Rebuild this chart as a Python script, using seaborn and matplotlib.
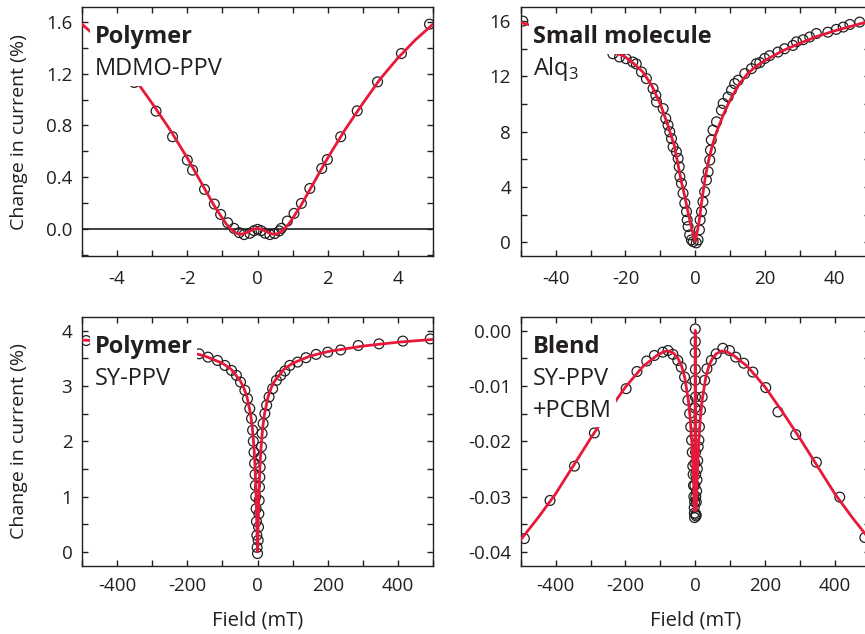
import matplotlib
matplotlib.use("Agg")
import matplotlib.pyplot as plt
import seaborn as sns
from matplotlib.ticker import MultipleLocator, FormatStrFormatter

# --- MDMO-PPV (polymer), field in mT, change in current in % ---
mdmo_field = [-3.51, -2.89, -2.42, -2.0, -1.85, -1.51, -1.23, -1.05, -0.85,
              -0.67, -0.52, -0.38, -0.22, -0.1, 0.0, 0.1, 0.22, 0.35, 0.49, 0.62, 0.68,
              0.85, 1.04, 1.25, 1.49, 1.83, 1.99, 2.37, 2.84, 3.42, 4.1, 4.9]
mdmo_mc = [1.131, 0.91, 0.713, 0.533, 0.456, 0.308, 0.195, 0.115, 0.051,
           0.008, -0.025, -0.04, -0.03, -0.01, 0.0, -0.01, -0.03, -0.04, -0.032, -0.012, 0.008,
           0.064, 0.123, 0.2, 0.315, 0.469, 0.538, 0.713, 0.913, 1.136, 1.354, 1.58]
mdmo_fit_field = [-5, -4.5, -4, -3.5, -3, -2.5, -2, -1.75, -1.5, -1.25, -1, -0.9, -0.8, -0.7,
                  -0.6, -0.5, -0.4, -0.3, -0.2, -0.1, 0, 0.1, 0.2, 0.3, 0.4, 0.5, 0.6, 0.7,
                  0.8, 0.9, 1, 1.25, 1.5, 1.75, 2, 2.5, 3, 3.5, 4, 4.5, 5]
mdmo_fit = [1.58, 1.46, 1.32, 1.16, 0.97, 0.77, 0.55, 0.43, 0.31, 0.19, 0.085, 0.045, 0.014,
            -0.012, -0.03, -0.038, -0.034, -0.024, -0.01, 0.003, 0.008, 0.003, -0.01, -0.024,
            -0.034, -0.038, -0.03, -0.012, 0.014, 0.045, 0.085, 0.19, 0.31, 0.43, 0.55, 0.77,
            0.97, 1.16, 1.32, 1.46, 1.58]

# --- Alq3 (small molecule) ---
alq_field = [-49.4, -23.6, -21.7, -19.8, -17.9, -16.9, -15.4, -14.0, -12.1, -11.3, -11.1,
             -9.2, -8.45, -7.8, -7.3, -6.8, -6.35, -5.4, -4.9, -4.6, -4.4, -3.95, -3.5, -3.0,
             -2.5, -2.3, -2.05, -1.6, -1.1, -0.6,
             0.3, 0.8, 1.2, 1.4, 1.8, 2.2, 2.7, 3.2, 3.7, 4.15, 4.35, 4.6, 5.1, 6.1, 7.5, 8.0,
             9.4, 10.4, 11.3, 12.3, 14.2, 16.1, 17.5, 18.5, 19.9, 21.3, 23.7, 25.6, 28.0, 29.0,
             30.9, 32.8, 34.7, 38.0, 40.4, 42.4, 44.3, 47.1]
alq_mc = [16.0, 13.64, 13.4, 13.28, 13.04, 12.9, 12.32, 11.84, 11.12, 10.63, 10.15,
          9.67, 8.95, 8.47, 7.99, 7.5, 6.9, 6.54, 6.06, 5.46, 4.74, 4.26, 3.54, 2.82,
          2.21, 1.61, 1.13, 0.53, 0.17, 0.04,
          -0.05, 0.17, 0.89, 1.61, 2.21, 2.93, 3.65, 4.5, 5.1, 5.94, 6.66, 7.39, 8.11, 8.71,
          9.55, 10.04, 10.51, 11.0, 11.48, 11.72, 12.2, 12.56, 12.92, 13.0, 13.3, 13.5, 13.76,
          14.0, 14.24, 14.5, 14.65, 14.85, 15.1, 15.2, 15.4, 15.57, 15.76, 15.93]
alq_fit_field = [-50, -45, -40, -35, -30, -25, -20, -17.5, -15, -12.5, -10, -8, -6, -4, -3,
                 -2, -1, 0, 1, 2, 3, 4, 5, 6, 8, 10, 12.5, 15, 17.5, 20, 25, 30, 35, 40, 45, 50]
alq_fit = [15.9, 15.55, 15.2, 14.85, 14.4, 13.95, 13.4, 12.9, 12.32, 11.35, 10.0, 8.58, 7.0,
           4.4, 3.3, 2.1, 0.95, 0.05, 1.3, 3.2, 4.9, 6.1, 7.1, 7.9, 9.2, 10.3, 11.4, 12.2,
           12.75, 13.15, 13.85, 14.4, 14.9, 15.3, 15.65, 16.0]

# --- SY-PPV (polymer) ---
sy_field = [-488, -166.5, -141, -114, -93, -74, -60, -48.5, -36, -28.5, -22, -17, -14, -12,
            -10, -8.5, -7, -6, -5, -4, -3, -2, -1,
            0, 1.9, 2.9, 3.8, 4.8, 5.7, 6.7, 7.6, 9.5, 11.4, 13, 16, 21, 26, 33, 43, 54, 66,
            78, 92, 114, 138, 167, 200, 237, 287, 346, 414, 492]
sy_mc = [3.82, 3.58, 3.52, 3.46, 3.37, 3.28, 3.19, 3.07, 2.92, 2.77, 2.59, 2.41, 2.2, 2.0,
         1.8, 1.6, 1.4, 1.2, 1.0, 0.78, 0.55, 0.3, 0.08,
         -0.03, 0.21, 0.45, 0.69, 0.93, 1.17, 1.35, 1.53, 1.71, 1.9, 2.14, 2.32, 2.5, 2.65,
         2.80, 2.95, 3.10, 3.19, 3.27, 3.37, 3.43, 3.51, 3.57, 3.61, 3.65, 3.73, 3.76, 3.81,
         3.85]
sy_fit_field = [-500, -400, -300, -200, -150, -100, -75, -50, -40, -30, -20, -15, -10, -7.5,
                -5, -3, -2, -1, 0, 1, 2, 3, 5, 7.5, 10, 15, 20, 30, 40, 50, 75, 100, 150,
                200, 300, 400, 500]
sy_fit = [3.83, 3.79, 3.72, 3.62, 3.54, 3.41, 3.3, 3.1, 2.98, 2.8, 2.5, 2.26, 1.88, 1.6,
          1.2, 0.78, 0.52, 0.25, 0.0, 0.25, 0.52, 0.78, 1.2, 1.6, 1.88, 2.26, 2.5, 2.8, 2.98,
          3.1, 3.3, 3.41, 3.54, 3.62, 3.72, 3.79, 3.84]

# --- SY-PPV + PCBM blend ---
blend_field = [-489.5, -416, -346, -289, -198, -167, -139, -117, -93, -78, -64, -50, -40,
               -30.6, -25.8, -21, -16, -13, -10.5, -8.5, -7, -6, -5, -4, -3, -2.5, -2, -1.6,
               -1.3, -1.0, -0.8, -0.6, -0.4, -0.2,
               0, 0.2, 0.4, 0.6, 0.8, 1.0, 1.3, 1.6, 2, 2.5, 3, 4, 5, 6, 7, 8.5, 10.5, 12,
               15, 20, 27, 33.5, 46, 60, 79, 98, 116, 139, 165, 202, 237, 288, 347, 414, 486]
blend_mc = [-0.0376, -0.0307, -0.0245, -0.0185, -0.0105, -0.0074, -0.0055, -0.0045, -0.0039,
            -0.0036, -0.0043, -0.0054, -0.0066, -0.0084, -0.0102, -0.0126, -0.015, -0.0174,
            -0.0198, -0.022, -0.0245, -0.026, -0.028, -0.030, -0.032, -0.033, -0.0338, -0.031,
            -0.028, -0.024, -0.019, -0.014, -0.009, -0.004,
            0.0003, -0.002, -0.007, -0.012, -0.017, -0.022, -0.026, -0.030, -0.0332, -0.0335,
            -0.031, -0.029, -0.027, -0.025, -0.0235, -0.021, -0.0198, -0.0174, -0.0144, -0.012,
            -0.009, -0.0069, -0.0054, -0.0042, -0.0032, -0.0036, -0.0048, -0.0059, -0.0075,
            -0.0103, -0.0147, -0.0188, -0.0238, -0.0301, -0.0374]
blend_fit_field = [-500, -450, -400, -350, -300, -250, -200, -150, -110, -90, -75, -60, -50,
                   -40, -30, -20, -15, -10, -5, -3, -2, -1.5, -1, -0.5, 0, 0.5, 1, 1.5, 2, 3,
                   5, 10, 15, 20, 30, 40, 50, 60, 75, 90, 110, 150, 200, 250, 300, 350, 400,
                   450, 500]
blend_fit = [-0.0378, -0.0338, -0.0295, -0.0245, -0.0195, -0.0147, -0.0102, -0.0065, -0.0045,
             -0.0038, -0.0037, -0.0042, -0.005, -0.0062, -0.0085, -0.0125, -0.0155, -0.02,
             -0.027, -0.031, -0.0325, -0.0325, -0.028, -0.015, 0.0, -0.015, -0.028, -0.0325,
             -0.0325, -0.031, -0.027, -0.02, -0.0155, -0.0125, -0.0085, -0.0062, -0.005,
             -0.0042, -0.0037, -0.0038, -0.0045, -0.0065, -0.0102, -0.0147, -0.0195, -0.0245,
             -0.0295, -0.0338, -0.0378]

RED = "#e6193a"
INK = "#231f20"

sns.set_theme(style="ticks")
plt.rcParams["font.family"] = ["Open Sans", "DejaVu Sans"]
plt.rcParams["axes.unicode_minus"] = False
plt.rcParams["axes.edgecolor"] = INK
plt.rcParams["axes.linewidth"] = 1.0
plt.rcParams["text.color"] = INK
plt.rcParams["axes.labelcolor"] = INK
plt.rcParams["xtick.color"] = INK
plt.rcParams["ytick.color"] = INK

fig = plt.figure(figsize=(8.65, 6.34), dpi=100)
ax1 = fig.add_axes([0.0948, 0.5962, 0.4058, 0.3923])
ax2 = fig.add_axes([0.602, 0.5962, 0.4035, 0.3923])
ax3 = fig.add_axes([0.0948, 0.1077, 0.4058, 0.3927])
ax4 = fig.add_axes([0.602, 0.1077, 0.4035, 0.3927])


def draw(ax, fx, fy, lx, ly):
    sns.scatterplot(x=fx, y=fy, ax=ax, marker="o", s=50, facecolors="none",
                    edgecolor=INK, linewidth=0.9, zorder=2)
    sns.lineplot(x=lx, y=ly, ax=ax, color=RED, linewidth=2.0, sort=False,
                 estimator=None, zorder=3)


def style(ax, xlim, ylim, xmaj, xmin, ymaj, ymin, yfmt, xpad):
    ax.set_xlim(*xlim)
    ax.set_ylim(*ylim)
    ax.xaxis.set_major_locator(MultipleLocator(xmaj))
    ax.xaxis.set_minor_locator(MultipleLocator(xmin))
    ax.yaxis.set_major_locator(MultipleLocator(ymaj))
    ax.yaxis.set_minor_locator(MultipleLocator(ymin))
    ax.yaxis.set_major_formatter(FormatStrFormatter(yfmt))
    ax.tick_params(which="both", direction="in", top=True, right=True,
                   length=4, width=1.0, labelsize=13.5)
    ax.tick_params(axis="x", pad=xpad)
    ax.tick_params(axis="y", pad=7)
    ax.set_xlabel("")
    ax.set_ylabel("")


def add_label(ax, lines):
    # white boxes hide the curve behind the panel titles, as in the original
    for i, (txt, weight) in enumerate(lines):
        ax.annotate(txt, xy=(0, 1), xycoords="axes fraction",
                    xytext=(12.5 * 0.72, -(36 + 32 * i) * 0.72), textcoords="offset points",
                    fontsize=17, fontweight=weight, ha="left", va="baseline",
                    bbox=dict(facecolor="white", edgecolor="none", pad=3), zorder=10)


ax1.axhline(0, color=INK, linewidth=1.2, zorder=1)
draw(ax1, mdmo_field, mdmo_mc, mdmo_fit_field, mdmo_fit)
draw(ax2, alq_field, alq_mc, alq_fit_field, alq_fit)
draw(ax3, sy_field, sy_mc, sy_fit_field, sy_fit)
draw(ax4, blend_field, blend_mc, blend_fit_field, blend_fit)

style(ax1, (-5, 5), (-0.205, 1.71), 2, 1, 0.4, 0.2, "%.1f", 10)
style(ax2, (-50, 50), (-1, 17), 20, 10, 4, 2, "%d", 10)
style(ax3, (-500, 500), (-0.25, 4.25), 200, 100, 1, 0.5, "%d", 8)
style(ax4, (-500, 500), (-0.0425, 0.0025), 200, 100, 0.01, 0.005, "%.2f", 8)

add_label(ax1, [("Polymer", "bold"), ("MDMO-PPV", "normal")])
add_label(ax2, [("Small molecule", "bold"), ("Alq$_\\mathregular{3}$", "normal")])
add_label(ax3, [("Polymer", "bold"), ("SY-PPV", "normal")])
add_label(ax4, [("Blend", "bold"), ("SY-PPV", "normal"), ("+PCBM", "normal")])

for ax in (ax1, ax3):
    ax.set_ylabel("Change in current (%)", fontsize=14)
    ax.yaxis.set_label_coords(-0.155, 0.5)
for ax in (ax3, ax4):
    ax.set_xlabel("Field (mT)", fontsize=14.5)
    ax.xaxis.set_label_coords(0.5, -0.18)

fig.savefig("out.png", dpi=100)
